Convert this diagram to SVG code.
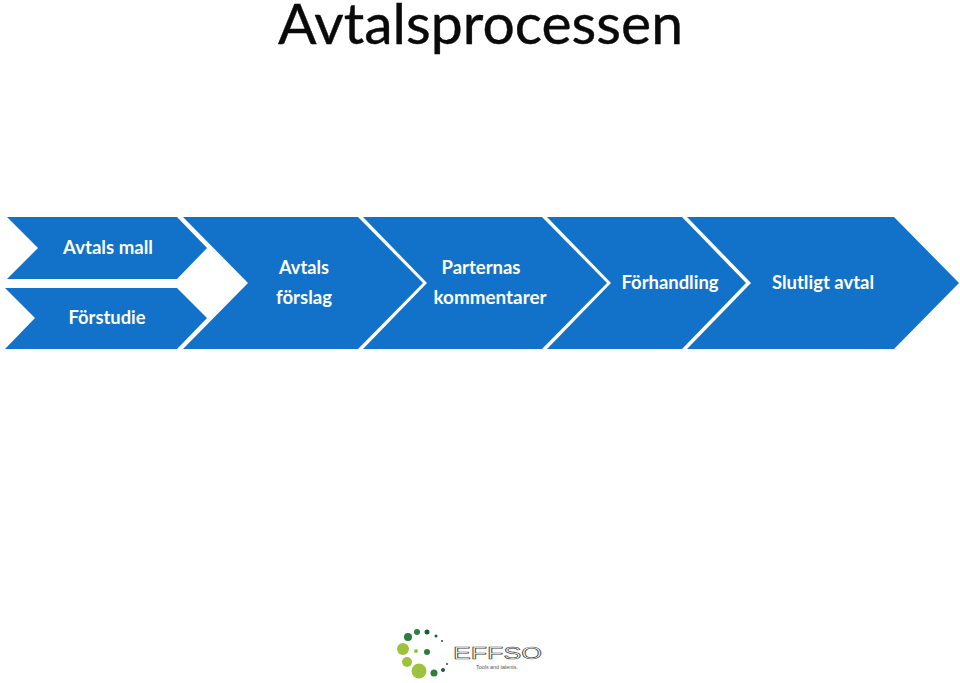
<svg xmlns="http://www.w3.org/2000/svg" width="960" height="683" viewBox="0 0 960 683">
<style>
.c{fill:#1271c8}
.t{font-family:"Lato","Open Sans",sans-serif;font-size:18px;font-weight:700;fill:#fff;text-anchor:middle}
.h{font-family:"Lato","Open Sans",sans-serif;font-size:56px;fill:#0a0a0a;stroke:#0a0a0a;stroke-width:.4}
.g1{fill:#2e7d3a}.g2{fill:#9fc23e}.g3{fill:#1e5a32}
</style>
<rect width="960" height="683" fill="#fff"/>
<text class="h" x="278" y="44" textLength="405" lengthAdjust="spacingAndGlyphs">Avtalsprocessen</text>
<g id="avtals-mall"><polygon class="c" points="7,217 177,217 207,248 177,279 7,279 38,248"/><text class="t" x="108" y="254" textLength="90" lengthAdjust="spacingAndGlyphs">Avtals mall</text></g>
<g id="forstudie"><polygon class="c" points="5,288 177,288 207,318 177,349 5,349 35,318"/><text class="t" x="107" y="324" textLength="77" lengthAdjust="spacingAndGlyphs">Förstudie</text></g>
<g id="avtals-forslag"><polygon class="c" points="183,217 358,217 423,283 358,349 183,349 248,283"/><text class="t" x="304" y="274" textLength="50" lengthAdjust="spacingAndGlyphs">Avtals</text><text class="t" x="304" y="304" textLength="56" lengthAdjust="spacingAndGlyphs">förslag</text></g>
<g id="parternas"><polygon class="c" points="363,217 542,217 607,283 542,349 363,349 427,283"/><text class="t" x="481" y="274" textLength="79" lengthAdjust="spacingAndGlyphs">Parternas</text><text class="t" x="490" y="304" textLength="113" lengthAdjust="spacingAndGlyphs">kommentarer</text></g>
<g id="forhandling"><polygon class="c" points="547,217 682,217 746,283 682,349 547,349 611,283"/><text class="t" x="670" y="289" textLength="97" lengthAdjust="spacingAndGlyphs">Förhandling</text></g>
<g id="slutligt"><polygon class="c" points="687,217 894,217 959,283 894,349 687,349 751,283"/><text class="t" x="823" y="289" textLength="102" lengthAdjust="spacingAndGlyphs">Slutligt avtal</text></g>
<g id="logo">
<circle class="g2" cx="403" cy="649" r="6"/><circle class="g2" cx="407" cy="662" r="5"/><circle class="g2" cx="419" cy="671" r="7.5"/><circle class="g1" cx="408" cy="637" r="4"/><circle class="g1" cx="417" cy="632" r="3"/><circle class="g3" cx="427" cy="632" r="2.5"/><circle class="g3" cx="436" cy="636" r="1.5"/><circle class="g3" cx="442" cy="641" r="1"/>
<circle class="g2" cx="416" cy="651" r="2"/><circle class="g1" cx="427" cy="652" r="3"/><circle class="g1" cx="434" cy="673" r="3.5"/><circle class="g3" cx="443" cy="670" r="2"/><circle class="g3" cx="447" cy="664" r="1"/>
<text x="453" y="659" font-family="Liberation Sans,sans-serif" font-size="16" fill="#fff" stroke="#444" stroke-width=".6" textLength="89" lengthAdjust="spacingAndGlyphs">EFFSO</text>
<text x="476" y="669" font-family="Liberation Sans,sans-serif" font-size="5" fill="#555" textLength="42" lengthAdjust="spacingAndGlyphs">Tools and talents.</text>
</g>
</svg>
